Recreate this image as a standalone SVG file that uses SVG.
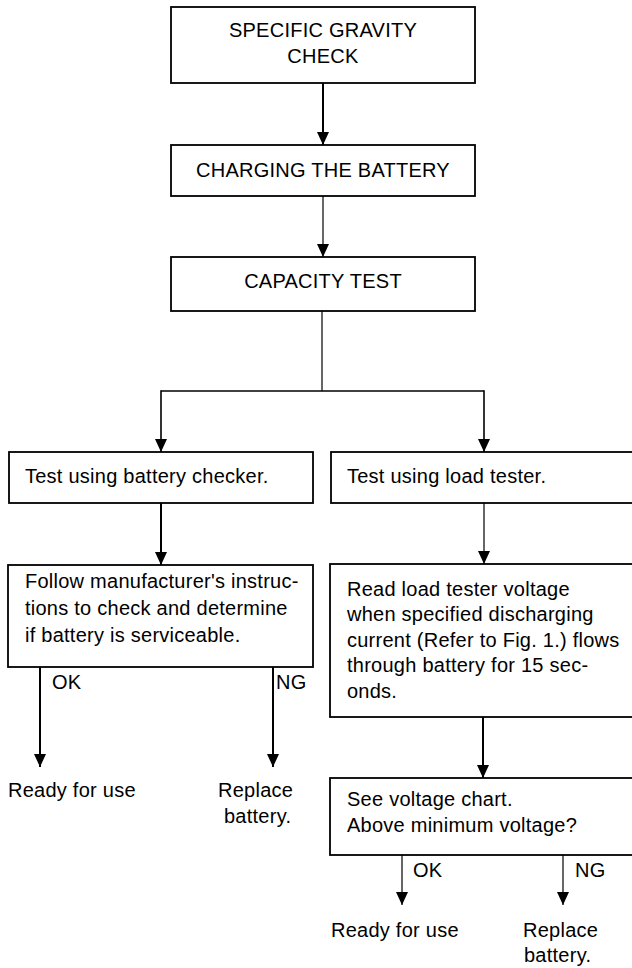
<svg xmlns="http://www.w3.org/2000/svg" width="632" height="968" viewBox="0 0 632 968">
<style>
.box{fill:#fff;stroke:#000;stroke-width:1.8}
.t{font-family:"Liberation Sans",Arial,sans-serif;font-size:20px;fill:#000;letter-spacing:0.25px}
.c{text-anchor:middle}
.thick{stroke:#000;stroke-width:2;fill:none}
.thin{stroke:#000;stroke-width:1.2;fill:none}
</style>
<defs>
<marker id="ah" viewBox="0 0 13 12" refX="13" refY="6" markerWidth="13" markerHeight="12" markerUnits="userSpaceOnUse" orient="auto">
<path d="M0,0 L13,6 L0,12 z" fill="#000"/>
</marker>
</defs>
<rect width="632" height="968" fill="#fff"/>
<g id="connectors">
<line class="thick" x1="323" y1="83" x2="323" y2="145" marker-end="url(#ah)"/>
<line class="thin" x1="323" y1="196" x2="323" y2="257" marker-end="url(#ah)"/>
<line class="thin" x1="322" y1="311" x2="322" y2="391"/>
<line class="thin" x1="161" y1="391" x2="484" y2="391" style="stroke-width:1.6"/>
<line class="thin" x1="161" y1="390.2" x2="161" y2="452" marker-end="url(#ah)" style="stroke-width:1.6"/>
<line class="thin" x1="484" y1="390.2" x2="484" y2="452" marker-end="url(#ah)" style="stroke-width:1.6"/>
<line class="thick" x1="161" y1="503" x2="161" y2="565" marker-end="url(#ah)"/>
<line class="thin" x1="484" y1="503" x2="484" y2="564" marker-end="url(#ah)"/>
<line class="thick" x1="40" y1="667" x2="40" y2="767" marker-end="url(#ah)"/>
<line class="thick" x1="273" y1="667" x2="273" y2="767" marker-end="url(#ah)"/>
<line class="thick" x1="483" y1="717" x2="483" y2="778" marker-end="url(#ah)"/>
<line class="thin" x1="402" y1="855" x2="402" y2="905" marker-end="url(#ah)"/>
<line class="thin" x1="563" y1="855" x2="563" y2="905" marker-end="url(#ah)"/>
</g>
<g id="n1">
<rect class="box" x="171" y="7" width="304" height="76"/>
<text class="t c" x="323" y="37">SPECIFIC GRAVITY</text>
<text class="t c" x="323" y="63">CHECK</text>
</g>
<g id="n2">
<rect class="box" x="171" y="145" width="304" height="51"/>
<text class="t c" x="323" y="177">CHARGING THE BATTERY</text>
</g>
<g id="n3">
<rect class="box" x="171" y="257" width="304" height="54"/>
<text class="t c" x="323" y="288">CAPACITY TEST</text>
</g>
<g id="n4">
<rect class="box" x="9" y="452" width="304" height="51"/>
<text class="t" x="25" y="483">Test using battery checker.</text>
</g>
<g id="n5">
<rect class="box" x="331" y="452" width="310" height="51"/>
<text class="t" x="347" y="483">Test using load tester.</text>
</g>
<g id="n6">
<rect class="box" x="8" y="565" width="305" height="102"/>
<text class="t" x="25" y="588">Follow manufacturer's instruc-</text>
<text class="t" x="25" y="615">tions to check and determine</text>
<text class="t" x="25" y="642">if battery is serviceable.</text>
</g>
<g id="n7">
<rect class="box" x="330" y="564" width="311" height="153"/>
<text class="t" x="347" y="596">Read load tester voltage</text>
<text class="t" x="347" y="621">when specified discharging</text>
<text class="t" x="347" y="647">current (Refer to Fig. 1.) flows</text>
<text class="t" x="347" y="672">through battery for 15 sec-</text>
<text class="t" x="347" y="698">onds.</text>
</g>
<g id="n8">
<rect class="box" x="330" y="778" width="311" height="77"/>
<text class="t" x="347" y="806">See voltage chart.</text>
<text class="t" x="347" y="832">Above minimum voltage?</text>
</g>
<g id="labels">
<text class="t" x="52" y="689">OK</text>
<text class="t" x="276" y="689">NG</text>
<text class="t" x="413" y="877">OK</text>
<text class="t" x="575" y="877">NG</text>
</g>
<g id="n9"><text class="t" x="8" y="797">Ready for use</text></g>
<g id="n10">
<text class="t" x="218" y="797">Replace</text>
<text class="t" x="224" y="823">battery.</text>
</g>
<g id="n11"><text class="t" x="331" y="937">Ready for use</text></g>
<g id="n12">
<text class="t" x="523" y="937">Replace</text>
<text class="t" x="524" y="962">battery.</text>
</g>
</svg>
